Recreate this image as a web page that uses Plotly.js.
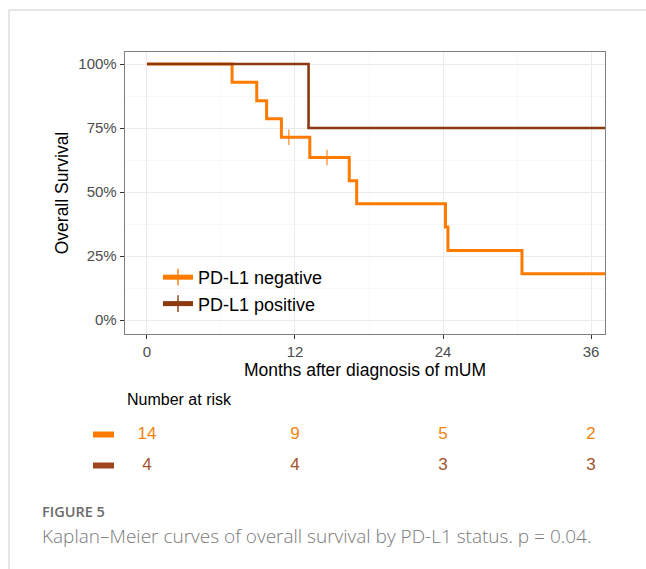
<!DOCTYPE html>
<html>
<head>
<meta charset="utf-8">
<script src="https://cdn.plot.ly/plotly-3.0.1.min.js"></script>
<style>html,body{margin:0;padding:0;background:#fff;}#chart{width:646px;height:569px;}</style>
</head>
<body>
<div id="chart"></div>
<script>
// Kaplan–Meier step data (months, survival fraction); censor flags mark "+" ticks
const negTime   = [0, 6.9, 8.9, 9.7, 10.9, 11.5, 13.2, 14.6, 16.4, 17.0, 24.2, 24.4, 30.4, 38];
const negSurv   = [1, 0.929, 0.857, 0.786, 0.714, 0.714, 0.635, 0.635, 0.544, 0.454, 0.363, 0.272, 0.181, 0.181];
const negCensor = [0, 0, 0, 0, 0, 1, 0, 1, 0, 0, 0, 0, 0, 1];
const posTime   = [0, 13.1, 38];
const posSurv   = [1, 0.75, 0.75];
const posCensor = [0, 0, 1];

// Number at risk table
const riskTimes = [0, 12, 24, 36];
const riskNeg   = [14, 9, 5, 2];
const riskPos   = [4, 4, 3, 3];
const groups    = ['PD-L1 negative', 'PD-L1 positive'];

const xTicks = [0, 12, 24, 36];
const yTicks = [0, 0.25, 0.5, 0.75, 1];

const cNeg = '#FF7B00';
const cPos = '#8B3A10';
const cNegTxt = '#F2830F';
const cPosTxt = '#A3522B';

const F = 'Liberation Sans, Arial, sans-serif';

const traces = [
  {
    x: negTime, y: negSurv, name: groups[0], type: 'scatter', mode: 'lines+markers',
    line: {shape: 'hv', color: cNeg, width: 3},
    marker: {symbol: 'line-ns', size: negCensor.map(c => c ? 11 : 0), line: {color: cNeg, width: 1.5}, color: cNeg},
    xaxis: 'x', yaxis: 'y', hoverinfo: 'x+y', cliponaxis: true
  },
  {
    x: posTime, y: posSurv, name: groups[1], type: 'scatter', mode: 'lines+markers',
    line: {shape: 'hv', color: cPos, width: 2.6},
    marker: {symbol: 'line-ns', size: posCensor.map(c => c ? 11 : 0), line: {color: cPos, width: 1.5}, color: cPos},
    xaxis: 'x', yaxis: 'y', hoverinfo: 'x+y', cliponaxis: true
  },
  {
    x: riskTimes, y: riskNeg.map(() => 1), text: riskNeg.map(String), type: 'scatter', mode: 'text',
    textfont: {family: F, size: 17, color: cNegTxt}, showlegend: false, xaxis: 'x2', yaxis: 'y2', hoverinfo: 'skip'
  },
  {
    x: riskTimes, y: riskPos.map(() => 0), text: riskPos.map(String), type: 'scatter', mode: 'text',
    textfont: {family: F, size: 17, color: cPosTxt}, showlegend: false, xaxis: 'x2', yaxis: 'y2', hoverinfo: 'skip'
  }
];

const W = 646, H = 569;
const px = v => v / W;
const py = v => 1 - v / H;

const layout = {
  width: W, height: H,
  margin: {l: 0, r: 0, t: 0, b: 0},
  paper_bgcolor: '#fff', plot_bgcolor: '#fff',
  font: {family: F, color: '#000'},
  showlegend: true,
  legend: {
    x: px(158), y: py(259), xanchor: 'left', yanchor: 'top',
    bgcolor: 'rgba(0,0,0,0)', font: {family: F, size: 18, color: '#000'},
    itemsizing: 'constant', tracegroupgap: 0
  },
  xaxis: {
    domain: [px(125), px(605)], range: [-1.78, 37.13],
    tickvals: xTicks, ticktext: xTicks.map(String),
    ticks: 'outside', ticklen: 4, tickcolor: '#333', tickwidth: 1,
    tickfont: {family: F, size: 15, color: '#4D4D4D'},
    showgrid: true, gridcolor: '#EBEBEB', gridwidth: 1,
    minor: {dtick: 6, tick0: 0, showgrid: true, gridcolor: '#F4F4F4', gridwidth: 0.6},
    zeroline: false, showline: true, mirror: true, linecolor: '#7F7F7F', linewidth: 1.3,
    title: {text: 'Months after diagnosis of mUM', font: {family: F, size: 17.5, color: '#000'}, standoff: 3},
    anchor: 'y', fixedrange: true
  },
  yaxis: {
    domain: [py(334), py(52)], range: [-0.0547, 1.047],
    tickvals: yTicks, tickformat: '.0%',
    ticks: 'outside', ticklen: 4, tickcolor: '#333', tickwidth: 1,
    tickfont: {family: F, size: 15, color: '#4D4D4D'},
    showgrid: true, gridcolor: '#EBEBEB', gridwidth: 1,
    minor: {dtick: 0.125, tick0: 0, showgrid: true, gridcolor: '#F4F4F4', gridwidth: 0.6},
    zeroline: false, showline: true, mirror: true, linecolor: '#7F7F7F', linewidth: 1.3,
    title: {text: 'Overall Survival', font: {family: F, size: 17.5, color: '#000'}, standoff: 5},
    anchor: 'x', fixedrange: true
  },
  xaxis2: {
    domain: [px(125), px(605)], range: [-1.78, 37.13], anchor: 'y2',
    visible: false, fixedrange: true
  },
  yaxis2: {
    domain: [py(481), py(419)], range: [-0.5, 1.5], anchor: 'x2',
    visible: false, fixedrange: true
  },
  shapes: [
    {type: 'line', xref: 'paper', yref: 'paper', x0: px(9), x1: 1, y0: py(10), y1: py(10), line: {color: '#CCCCCC', width: 1}},
    {type: 'line', xref: 'paper', yref: 'paper', x0: px(9), x1: px(9), y0: py(10), y1: 0, line: {color: '#CCCCCC', width: 1}},
    {type: 'line', xref: 'paper', yref: 'y2', x0: px(93), x1: px(114), y0: 1, y1: 1, line: {color: cNeg, width: 6}},
    {type: 'line', xref: 'paper', yref: 'y2', x0: px(93), x1: px(114), y0: 0, y1: 0, line: {color: '#A0461E', width: 6}}
  ],
  annotations: [
    {text: 'Number at risk', xref: 'paper', yref: 'paper', x: px(125), y: py(399), xanchor: 'left', yanchor: 'middle',
     showarrow: false, font: {family: F, size: 16, color: '#000'}},
    {text: 'FIGURE 5', xref: 'paper', yref: 'paper', x: px(40), y: py(511), xanchor: 'left', yanchor: 'middle',
     showarrow: false, font: {family: 'Open Sans, sans-serif', size: 14.5, color: '#6B6B6B', weight: 600}},
    {text: 'Kaplan–Meier curves of overall survival by PD-L1 status. p = 0.04.', xref: 'paper', yref: 'paper',
     x: px(40), y: py(536), xanchor: 'left', yanchor: 'middle',
     showarrow: false, font: {family: 'Open Sans, sans-serif', size: 19, color: '#7A7A7A', weight: 300}}
  ]
};

Plotly.newPlot('chart', traces, layout, {displayModeBar: false, staticPlot: true});
</script>
</body>
</html>
